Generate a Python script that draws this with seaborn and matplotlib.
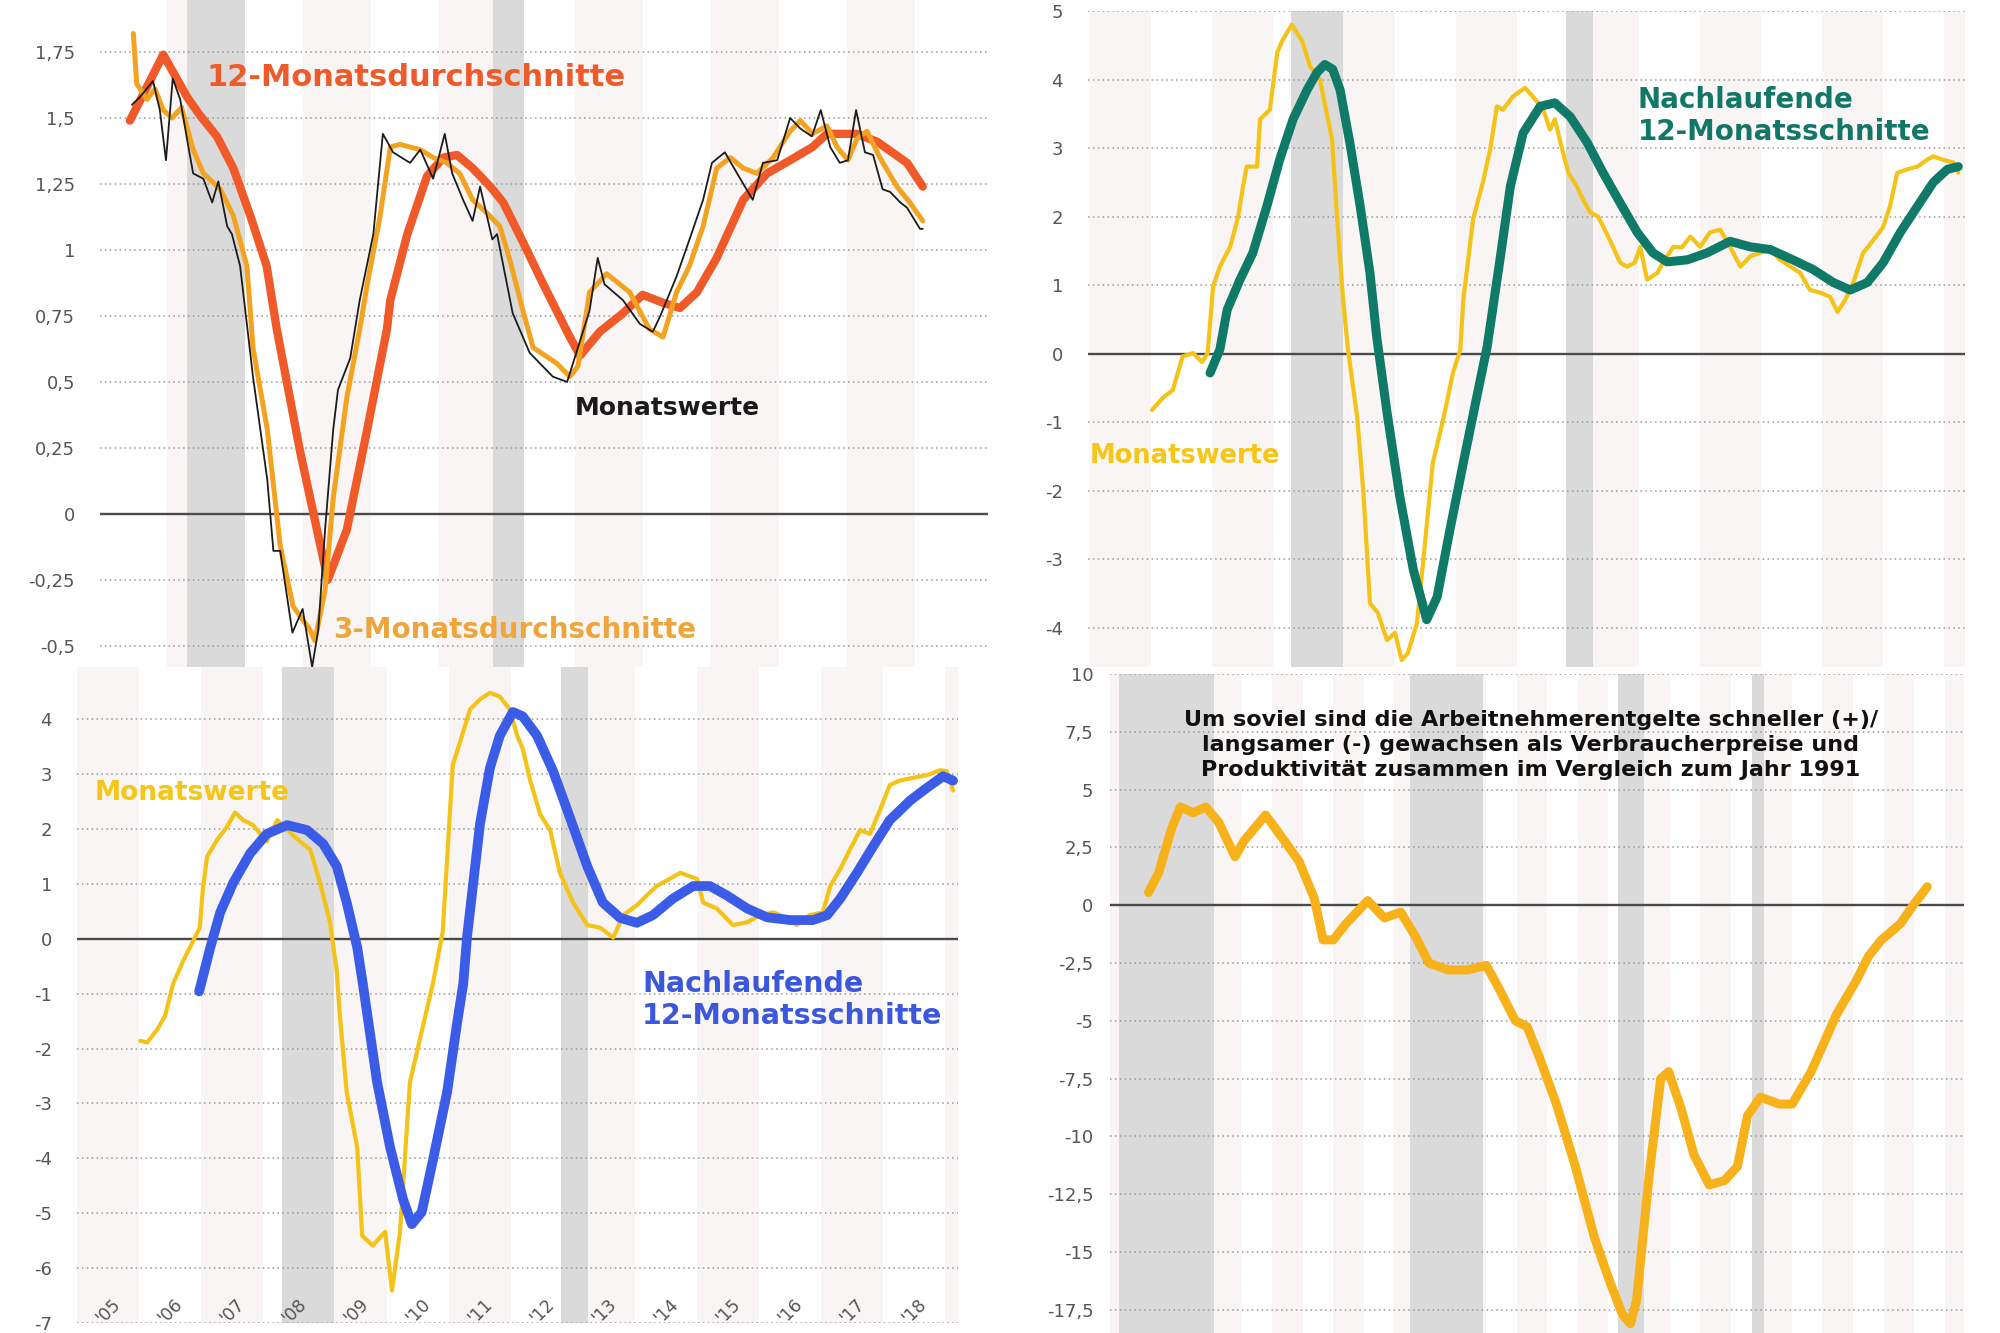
import matplotlib
matplotlib.use("Agg")
import matplotlib.pyplot as plt
import seaborn as sns

# ---------------- data ----------------
# Panel 1 (top left): Monatswerte, 3-Monatsdurchschnitte, 12-Monatsdurchschnitte
p1_month_x = [2007.49, 2007.61, 2007.80, 2007.90, 2007.99, 2008.09, 2008.20, 2008.30, 2008.39, 2008.54,
              2008.67, 2008.76, 2008.89, 2008.96, 2009.08, 2009.27, 2009.48, 2009.57, 2009.67, 2009.85,
              2010.00, 2010.14, 2010.23, 2010.33, 2010.45, 2010.52, 2010.70, 2010.84, 2011.04, 2011.18,
              2011.33, 2011.58, 2011.73, 2011.92, 2012.09, 2012.20, 2012.36, 2012.50, 2012.61, 2012.79,
              2012.86, 2013.09, 2013.34, 2013.68, 2013.89, 2014.22, 2014.34, 2014.44, 2014.71, 2014.96,
              2015.15, 2015.26, 2015.50, 2015.69, 2015.89, 2016.02, 2016.21, 2016.39, 2016.62, 2016.77,
              2016.98, 2017.17, 2017.32, 2017.49, 2017.62, 2017.76, 2017.90, 2018.02, 2018.14, 2018.27,
              2018.39, 2018.53, 2018.64, 2018.79, 2018.89, 2019.08, 2019.12]
p1_month_y = [1.55, 1.58, 1.64, 1.53, 1.34, 1.65, 1.57, 1.42, 1.29, 1.27,
              1.18, 1.26, 1.09, 1.06, 0.94, 0.52, 0.13, -0.14, -0.14, -0.45,
              -0.36, -0.58, -0.44, -0.06, 0.32, 0.47, 0.59, 0.81, 1.06, 1.44,
              1.37, 1.33, 1.38, 1.27, 1.44, 1.29, 1.19, 1.11, 1.24, 1.04,
              1.06, 0.76, 0.61, 0.52, 0.50, 0.77, 0.97, 0.87, 0.81, 0.72,
              0.69, 0.75, 0.90, 1.04, 1.19, 1.33, 1.37, 1.29, 1.19, 1.33,
              1.34, 1.50, 1.46, 1.43, 1.53, 1.39, 1.33, 1.34, 1.53, 1.37,
              1.36, 1.23, 1.22, 1.18, 1.16, 1.08, 1.08]

p1_avg3_x = [2007.51, 2007.56, 2007.71, 2007.83, 2007.95, 2008.08, 2008.22, 2008.39, 2008.54, 2008.79,
             2008.98, 2009.18, 2009.27, 2009.48, 2009.67, 2009.86, 2010.11, 2010.18, 2010.33, 2010.45,
             2010.65, 2010.84, 2010.95, 2011.14, 2011.29, 2011.43, 2011.73, 2011.92, 2012.12, 2012.31,
             2012.50, 2012.71, 2012.90, 2013.05, 2013.24, 2013.39, 2013.74, 2013.93, 2014.05, 2014.22,
             2014.47, 2014.81, 2015.10, 2015.30, 2015.50, 2015.69, 2015.89, 2016.09, 2016.29, 2016.48,
             2016.68, 2016.92, 2017.17, 2017.32, 2017.50, 2017.71, 2017.86, 2018.02, 2018.15, 2018.30,
             2018.49, 2018.74, 2018.93, 2019.12]
p1_avg3_y = [1.82, 1.63, 1.57, 1.61, 1.53, 1.50, 1.54, 1.38, 1.29, 1.23,
             1.13, 0.94, 0.63, 0.32, -0.12, -0.35, -0.44, -0.48, -0.29, 0.06,
             0.44, 0.70, 0.87, 1.13, 1.39, 1.40, 1.38, 1.35, 1.33, 1.29,
             1.19, 1.14, 1.09, 0.96, 0.77, 0.63, 0.57, 0.52, 0.56, 0.84,
             0.91, 0.84, 0.70, 0.67, 0.84, 0.94, 1.09, 1.31, 1.35, 1.31,
             1.29, 1.35, 1.45, 1.49, 1.44, 1.47, 1.39, 1.34, 1.42, 1.45,
             1.35, 1.24, 1.18, 1.11]

p1_avg12_x = [2007.46, 2007.95, 2008.30, 2008.49, 2008.74, 2008.98, 2009.23, 2009.47, 2009.62, 2009.96,
              2010.37, 2010.65, 2010.95, 2011.24, 2011.29, 2011.54, 2011.83, 2012.07, 2012.27, 2012.50,
              2012.76, 2012.95, 2013.24, 2013.54, 2013.93, 2014.08, 2014.37, 2014.71, 2015.00, 2015.30,
              2015.55, 2015.80, 2016.09, 2016.48, 2016.83, 2017.17, 2017.50, 2017.71, 2018.15, 2018.45,
              2018.89, 2019.12]
p1_avg12_y = [1.49, 1.74, 1.58, 1.51, 1.43, 1.31, 1.13, 0.94, 0.70, 0.24,
              -0.25, -0.06, 0.32, 0.70, 0.81, 1.06, 1.28, 1.35, 1.36, 1.31,
              1.24, 1.18, 1.03, 0.87, 0.67, 0.60, 0.69, 0.76, 0.83, 0.80,
              0.78, 0.84, 0.97, 1.19, 1.29, 1.34, 1.39, 1.44, 1.44, 1.41,
              1.33, 1.24]

# Panel 2 (top right): Monatswerte and trailing 12-month averages
p2_month_x = [2006.02, 2006.20, 2006.36, 2006.52, 2006.69, 2006.84, 2006.93, 2007.02, 2007.13, 2007.30,
              2007.43, 2007.51, 2007.57, 2007.74, 2007.79, 2007.95, 2008.07, 2008.16, 2008.31, 2008.48,
              2008.61, 2008.77, 2008.97, 2009.05, 2009.15, 2009.23, 2009.38, 2009.48, 2009.59, 2009.72,
              2009.87, 2010.00, 2010.11, 2010.21, 2010.36, 2010.46, 2010.62, 2010.79, 2010.95, 2011.07,
              2011.12, 2011.28, 2011.44, 2011.56, 2011.67, 2011.77, 2011.93, 2012.13, 2012.26, 2012.43,
              2012.54, 2012.62, 2012.74, 2012.84, 2012.98, 2013.08, 2013.20, 2013.33, 2013.52, 2013.69,
              2013.80, 2013.93, 2014.02, 2014.13, 2014.30, 2014.39, 2014.56, 2014.70, 2014.84, 2015.00,
              2015.16, 2015.33, 2015.49, 2015.66, 2015.82, 2015.98, 2016.15, 2016.31, 2016.48, 2016.64,
              2016.80, 2016.97, 2017.13, 2017.25, 2017.38, 2017.51, 2017.67, 2017.84, 2018.00, 2018.11,
              2018.23, 2018.39, 2018.56, 2018.72, 2018.82, 2018.98, 2019.15, 2019.23]
p2_month_y = [-0.82, -0.64, -0.53, -0.04, 0.01, -0.12, 0.01, 0.98, 1.27, 1.56,
              2.00, 2.44, 2.73, 2.73, 3.42, 3.56, 4.39, 4.58, 4.80, 4.56,
              4.19, 4.00, 3.12, 2.00, 0.79, 0.06, -0.92, -1.99, -3.64, -3.78,
              -4.18, -4.07, -4.47, -4.37, -3.93, -3.05, -1.59, -0.96, -0.28, 0.06,
              0.79, 1.96, 2.50, 2.98, 3.61, 3.56, 3.75, 3.88, 3.75, 3.56,
              3.27, 3.42, 2.98, 2.64, 2.44, 2.25, 2.06, 2.00, 1.66, 1.33,
              1.27, 1.33, 1.56, 1.08, 1.18, 1.33, 1.56, 1.55, 1.71, 1.56,
              1.77, 1.81, 1.56, 1.27, 1.42, 1.47, 1.52, 1.37, 1.27, 1.18,
              0.93, 0.89, 0.83, 0.61, 0.79, 1.04, 1.47, 1.66, 1.85, 2.15,
              2.64, 2.69, 2.73, 2.83, 2.88, 2.83, 2.79, 2.64]

p2_trail_x = [2006.97, 2007.13, 2007.25, 2007.46, 2007.67, 2007.90, 2008.11, 2008.33, 2008.56, 2008.72,
              2008.85, 2008.98, 2009.10, 2009.26, 2009.43, 2009.59, 2009.70, 2009.87, 2010.08, 2010.30,
              2010.52, 2010.69, 2010.90, 2011.12, 2011.34, 2011.51, 2011.72, 2011.89, 2012.10, 2012.38,
              2012.62, 2012.87, 2013.15, 2013.41, 2013.69, 2013.97, 2014.23, 2014.46, 2014.79, 2015.11,
              2015.49, 2015.82, 2016.15, 2016.52, 2016.85, 2017.18, 2017.46, 2017.74, 2018.00, 2018.28,
              2018.56, 2018.82, 2019.05, 2019.23]
p2_trail_y = [-0.28, 0.06, 0.64, 1.08, 1.47, 2.15, 2.83, 3.42, 3.85, 4.10,
              4.22, 4.15, 3.85, 3.08, 2.15, 1.18, 0.25, -0.86, -2.09, -3.15,
              -3.88, -3.55, -2.57, -1.59, -0.63, 0.10, 1.37, 2.44, 3.22, 3.61,
              3.66, 3.46, 3.08, 2.64, 2.20, 1.77, 1.47, 1.34, 1.37, 1.47,
              1.64, 1.56, 1.52, 1.37, 1.23, 1.04, 0.93, 1.04, 1.33, 1.77,
              2.15, 2.50, 2.69, 2.73]

# Panel 3 (bottom left): Monatswerte and trailing 12-month averages
p3_month_x = [2006.02, 2006.13, 2006.29, 2006.42, 2006.55, 2006.71, 2006.87, 2006.98, 2007.03, 2007.10,
              2007.26, 2007.42, 2007.55, 2007.68, 2007.84, 2008.06, 2008.23, 2008.39, 2008.60, 2008.76,
              2008.92, 2009.08, 2009.19, 2009.24, 2009.35, 2009.52, 2009.60, 2009.77, 2009.97, 2010.08,
              2010.21, 2010.37, 2010.58, 2010.74, 2010.90, 2011.06, 2011.18, 2011.34, 2011.50, 2011.66,
              2011.82, 2011.98, 2012.10, 2012.19, 2012.31, 2012.47, 2012.63, 2012.79, 2013.00, 2013.23,
              2013.44, 2013.65, 2013.81, 2014.03, 2014.19, 2014.35, 2014.56, 2014.73, 2015.00, 2015.10,
              2015.32, 2015.58, 2015.81, 2016.02, 2016.23, 2016.45, 2016.61, 2016.82, 2017.03, 2017.15,
              2017.31, 2017.47, 2017.63, 2017.79, 2017.95, 2018.11, 2018.27, 2018.48, 2018.71, 2018.92,
              2019.03, 2019.13]
p3_month_y = [-1.86, -1.89, -1.66, -1.41, -0.82, -0.41, -0.05, 0.20, 0.91, 1.50,
              1.80, 2.04, 2.30, 2.16, 2.07, 1.77, 2.16, 1.98, 1.77, 1.63,
              1.02, 0.30, -0.59, -1.41, -2.79, -3.80, -5.41, -5.59, -5.34, -6.41,
              -5.34, -2.61, -1.59, -0.82, 0.13, 3.16, 3.59, 4.18, 4.36, 4.48,
              4.41, 4.18, 3.70, 3.46, 2.88, 2.27, 1.98, 1.20, 0.66, 0.25,
              0.20, 0.02, 0.43, 0.61, 0.79, 0.96, 1.09, 1.20, 1.09, 0.66,
              0.55, 0.25, 0.30, 0.43, 0.48, 0.38, 0.25, 0.43, 0.48, 0.96,
              1.27, 1.63, 1.98, 1.91, 2.34, 2.80, 2.88, 2.93, 2.98, 3.07,
              3.05, 2.70]

p3_trail_x = [2006.97, 2007.15, 2007.31, 2007.52, 2007.79, 2008.06, 2008.39, 2008.71, 2008.97, 2009.19,
              2009.35, 2009.52, 2009.61, 2009.84, 2010.05, 2010.26, 2010.40, 2010.56, 2010.74, 2010.97,
              2011.13, 2011.23, 2011.29, 2011.50, 2011.66, 2011.82, 2012.03, 2012.19, 2012.42, 2012.68,
              2012.95, 2013.23, 2013.48, 2013.76, 2014.03, 2014.29, 2014.61, 2014.94, 2015.21, 2015.48,
              2015.81, 2016.13, 2016.50, 2016.87, 2017.10, 2017.31, 2017.58, 2017.84, 2018.11, 2018.44,
              2018.71, 2018.97, 2019.13]
p3_trail_y = [-0.96, -0.16, 0.48, 1.02, 1.55, 1.91, 2.07, 1.98, 1.73, 1.32,
              0.66, -0.16, -0.82, -2.61, -3.80, -4.75, -5.20, -4.98, -4.04, -2.79,
              -1.54, -0.82, 0.02, 2.09, 3.11, 3.70, 4.13, 4.05, 3.70, 3.05,
              2.21, 1.32, 0.66, 0.38, 0.29, 0.43, 0.73, 0.96, 0.96, 0.79,
              0.55, 0.39, 0.34, 0.34, 0.43, 0.73, 1.20, 1.68, 2.16, 2.52,
              2.75, 2.96, 2.88]

p3_years = [2005, 2006, 2007, 2008, 2009, 2010, 2011, 2012, 2013, 2014, 2015, 2016, 2017, 2018]
p3_year_labels = ["'05", "'06", "'07", "'08", "'09", "'10", "'11", "'12", "'13", "'14",
                  "'15", "'16", "'17", "'18"]

# Panel 4 (bottom right): difference vs. 1991
p4_x = [1992.96, 1993.29, 1993.71, 1994.00, 1994.42, 1994.83, 1995.25, 1995.79, 1996.09, 1996.79,
        1997.34, 1997.88, 1998.38, 1998.67, 1999.00, 1999.42, 2000.13, 2000.67, 2001.21, 2001.71,
        2002.13, 2002.76, 2003.38, 2004.01, 2004.42, 2004.96, 2005.34, 2005.75, 2006.30, 2006.92,
        2007.55, 2008.05, 2008.46, 2008.72, 2008.92, 2009.34, 2009.71, 2009.97, 2010.38, 2010.80,
        2011.30, 2011.80, 2012.22, 2012.55, 2012.97, 2013.59, 2014.01, 2014.63, 2015.47, 2016.09,
        2016.51, 2016.93, 2017.55, 2017.97, 2018.43]
p4_y = [0.55, 1.4, 3.3, 4.25, 4.0, 4.25, 3.6, 2.1, 2.8, 3.9,
        2.9, 1.9, 0.3, -1.5, -1.5, -0.8, 0.2, -0.55, -0.3, -1.4,
        -2.5, -2.8, -2.8, -2.6, -3.6, -5.0, -5.25, -6.6, -8.6, -11.3,
        -14.4, -16.3, -17.7, -18.1, -17.1, -11.6, -7.5, -7.2, -8.8, -10.8,
        -12.1, -11.9, -11.3, -9.1, -8.3, -8.6, -8.6, -7.2, -4.7, -3.3,
        -2.2, -1.5, -0.8, 0.0, 0.8]

recessions = [(2008.3, 2009.15), (2012.8, 2013.25)]
p4_recessions = [(1992.0, 1995.1), (2001.5, 2003.9), (2008.3, 2009.15), (2012.7, 2013.1)]

p1_yticks = [1.75, 1.5, 1.25, 1.0, 0.75, 0.5, 0.25, 0.0, -0.25, -0.5]
p1_ylabels = ["1,75", "1,5", "1,25", "1", "0,75", "0,5", "0,25", "0", "-0,25", "-0,5"]
p2_yticks = [5, 4, 3, 2, 1, 0, -1, -2, -3, -4]
p2_ylabels = ["5", "4", "3", "2", "1", "0", "-1", "-2", "-3", "-4"]
p3_yticks = [4, 3, 2, 1, 0, -1, -2, -3, -4, -5, -6, -7]
p3_ylabels = ["4", "3", "2", "1", "0", "-1", "-2", "-3", "-4", "-5", "-6", "-7"]
p4_yticks = [10, 7.5, 5, 2.5, 0, -2.5, -5, -7.5, -10, -12.5, -15, -17.5]
p4_ylabels = ["10", "7,5", "5", "2,5", "0", "-2,5", "-5", "-7,5", "-10", "-12,5", "-15", "-17,5"]

# ---------------- styling ----------------
sns.set_theme(style="white")
plt.rcParams["font.family"] = ["DejaVu Sans"]

W, H = 2000, 1333
fig = plt.figure(figsize=(W / 100, H / 100), dpi=100)
fig.patch.set_facecolor("white")

STRIPE = "#f8f5f4"
REC = "#dadada"
TICKC = "#555555"


def px_axes(x0, y0, x1, y1):
    return fig.add_axes([x0 / W, 1 - y1 / H, (x1 - x0) / W, (y1 - y0) / H])


def ftext(x, y, s, **kw):
    fig.text(x / W, 1 - y / H, s, **kw)


def decorate(ax, xlim, ylim, yticks, ylabels, odd_light, recs, pad_pt):
    y0, y1 = int(xlim[0]) - 1, int(xlim[1]) + 1
    for yr in range(y0, y1 + 1):
        if (yr % 2 == 1) == odd_light and yr + 0.15 < xlim[1]:
            ax.axvspan(yr, yr + 1, color=STRIPE, lw=0, zorder=0.1)
    for a, b in recs:
        ax.axvspan(a, b, color=REC, lw=0, zorder=0.2)
    ax.set_xlim(*xlim)
    ax.set_ylim(*ylim)
    ax.set_yticks(yticks)
    ax.set_yticklabels(ylabels)
    ax.set_axisbelow(True)
    ax.yaxis.grid(True, linestyle=(0, (1, 2.2)), color="#9a9a9a", lw=1.1)
    ax.xaxis.grid(False)
    ax.axhline(0, color="#4a4a4a", lw=1.7, zorder=1)
    for s in ax.spines.values():
        s.set_visible(False)
    ax.tick_params(axis="y", length=0, pad=pad_pt, labelsize=13, labelcolor=TICKC)
    ax.tick_params(axis="x", length=0)
    ax.set_xlabel("")
    ax.set_ylabel("")
    ax.set_facecolor("white")


def line(ax, x, y, color, lw, z):
    sns.lineplot(x=x, y=y, ax=ax, color=color, linewidth=lw, estimator=None, sort=False,
                 zorder=z, solid_capstyle="round", solid_joinstyle="round")


# ---------- Panel 1 ----------
ax1 = px_axes(100, 0, 988, 667)
line(ax1, p1_avg12_x, p1_avg12_y, "#f05a28", 6.0, 3)
line(ax1, p1_avg3_x, p1_avg3_y, "#f4a320", 3.6, 4)
line(ax1, p1_month_x, p1_month_y, "#1c1c1c", 1.3, 5)
decorate(ax1, (2007.02, 2020.08), (-0.58, 1.947), p1_yticks, p1_ylabels, False, recessions, 18)
ax1.set_xticks([])
ftext(207, 78, "12-Monatsdurchschnitte", color="#ef5a2a", fontsize=22, fontweight="bold",
      ha="left", va="center")
ftext(333, 630, "3-Monatsdurchschnitte", color="#f0a53a", fontsize=20, fontweight="bold",
      ha="left", va="center")
ftext(575, 408, "Monatswerte", color="#1a1a1a", fontsize=18, fontweight="bold",
      ha="left", va="center")

# ---------- Panel 2 ----------
ax2 = px_axes(1088, 11, 1965, 667)
line(ax2, p2_month_x, p2_month_y, "#f5c218", 3.0, 3)
line(ax2, p2_trail_x, p2_trail_y, "#0f7a67", 6.5, 4)
decorate(ax2, (2004.97, 2019.34), (-4.57, 5.0), p2_yticks, p2_ylabels, True, recessions, 18)
ax2.set_xticks([])
ftext(1638, 116, "Nachlaufende\n12-Monatsschnitte", color="#137768", fontsize=20,
      fontweight="bold", ha="left", va="center", linespacing=1.15)
ftext(1090, 456, "Monatswerte", color="#f5c518", fontsize=18.5, fontweight="bold",
      ha="left", va="center")

# ---------- Panel 3 ----------
ax3 = px_axes(77, 667, 958, 1323)
line(ax3, p3_month_x, p3_month_y, "#f5c218", 3.0, 3)
line(ax3, p3_trail_x, p3_trail_y, "#3b5ce6", 7.0, 4)
decorate(ax3, (2005.0, 2019.21), (-7.0, 4.95), p3_yticks, p3_ylabels, True, recessions, 18)
ax3.set_xticks([y + 0.5 for y in p3_years])
ax3.set_xticklabels(p3_year_labels, rotation=45)
ax3.tick_params(axis="x", pad=-20, labelsize=12.5, labelcolor=TICKC)
ftext(95, 793, "Monatswerte", color="#f5c518", fontsize=19, fontweight="bold",
      ha="left", va="center")
ftext(642, 1000, "Nachlaufende\n12-Monatsschnitte", color="#3b57dc", fontsize=20.5,
      fontweight="bold", ha="left", va="center", linespacing=1.15)

# ---------- Panel 4 ----------
ax4 = px_axes(1110, 674, 1964, 1333)
line(ax4, p4_x, p4_y, "#f7b21b", 6.5, 3)
decorate(ax4, (1991.7, 2019.63), (-18.5, 10.0), p4_yticks, p4_ylabels, True, p4_recessions, 12)
ax4.set_xticks([])
ftext(1531, 745,
      "Um soviel sind die Arbeitnehmerentgelte schneller (+)/\n"
      "langsamer (-) gewachsen als Verbraucherpreise und\n"
      "Produktivität zusammen im Vergleich zum Jahr 1991",
      color="#111111", fontsize=16, fontweight="bold", ha="center", va="center",
      linespacing=1.3)

fig.savefig("out.png", dpi=100, facecolor="white")
